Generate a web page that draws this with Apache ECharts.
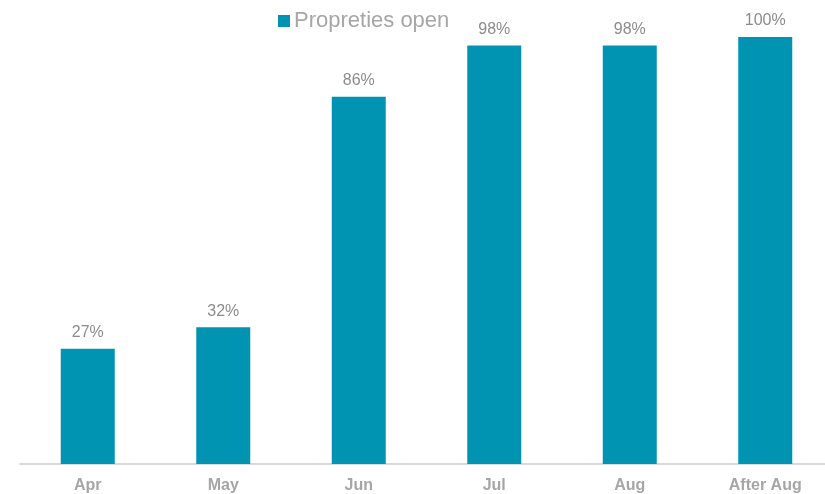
<!DOCTYPE html>
<html><head><meta charset="utf-8">
<script src="https://cdn.jsdelivr.net/npm/echarts@6/dist/echarts.min.js"></script>
<style>html,body{margin:0;padding:0;background:#fff;overflow:hidden;width:825px;height:494px}#c{width:833px;height:494px}</style>
</head><body><div id="c"></div>
<script>
const categories = ['Apr', 'May', 'Jun', 'Jul', 'Aug', 'After Aug'];
const seriesName = 'Propreties open';
const values = [27, 32, 86, 98, 98, 100];

const chart = echarts.init(document.getElementById('c'), null, {renderer: 'canvas'});
chart.setOption({
  animation: false,
  legend: {
    data: [seriesName],
    top: 5,
    left: 273,
    itemWidth: 12,
    itemHeight: 12,
    itemGap: 6,
    icon: 'rect',
    textStyle: {fontFamily: 'Liberation Sans', fontSize: 22, color: '#a6a6a6', padding: [0, 0, 0, -1]}
  },
  grid: {left: 20, right: 0, top: 37, bottom: 30},
  xAxis: {
    type: 'category',
    data: categories,
    axisLine: {lineStyle: {color: '#d9d9d9', width: 2}},
    axisTick: {show: false},
    axisLabel: {fontFamily: 'Liberation Sans', fontSize: 16, fontWeight: 'bold', color: '#a6a6a6', margin: 14}
  },
  yAxis: {type: 'value', min: 0, max: 100, show: false, splitLine: {show: false}},
  series: [{
    name: seriesName,
    type: 'bar',
    data: values,
    barWidth: 54,
    itemStyle: {color: '#0093b2'},
    label: {
      show: true, position: 'top', distance: 8,
      formatter: p => p.value + '%',
      fontFamily: 'Liberation Sans', fontSize: 16, color: '#8c8c8c'
    }
  }]
});
</script></body></html>
